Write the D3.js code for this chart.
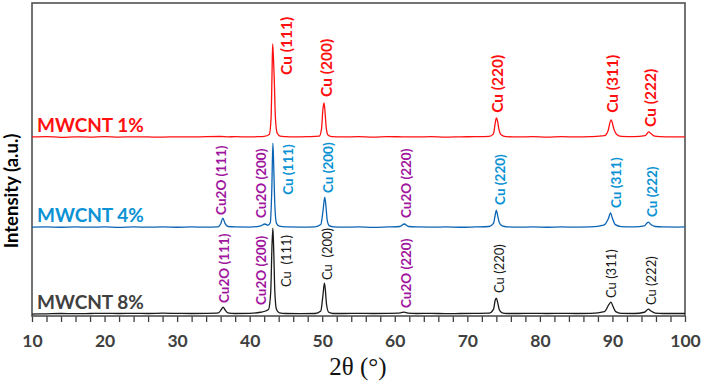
<!DOCTYPE html>
<html><head><meta charset="utf-8">
<script src="https://cdn.jsdelivr.net/npm/d3@7"></script>
<style>html,body{margin:0;padding:0;background:#fff;}svg{display:block;}</style>
</head><body><svg id="c" width="706" height="384"></svg>
<script>
// ---- data ----
const seriesNames = ["MWCNT 1%", "MWCNT 4%", "MWCNT 8%"];
const seriesOffsets = [5720, 2840, 60];
const xTicks = [10, 20, 30, 40, 50, 60, 70, 80, 90, 100];
const xTitle = "2\u03B8 (\u00B0)";
const yTitle = "Intensity (a.u.)";

const pattern1 = [[10,0],[12,10],[14,-10],[16,5],[18,-5],[20,10],[22,-5],[24,5],[26,0],[28,-5],[30,5],[32,0],[34,10],[36,15],[37,5],[38,10],[40,0],[41,10],[42,20],[42.7,80],[42.95,600],[43.08,2000],[43.17,2971],[43.28,2500],[43.38,1900],[43.55,600],[43.8,120],[44.2,30],[45,10],[46,0],[48,10],[49.6,30],[49.9,250],[50.1,900],[50.24,1090],[50.35,900],[50.55,300],[50.8,60],[51.3,10],[53,0],[55,10],[57,-5],[59,10],[61,5],[63,0],[65,10],[67,-5],[69,5],[71,10],[73,20],[73.6,100],[73.85,450],[74.0,607],[74.15,520],[74.35,250],[74.7,60],[75.3,10],[77,0],[79,10],[81,-5],[83,10],[85,0],[87,10],[88.9,40],[89.4,200],[89.8,543],[89.95,480],[90.2,250],[90.6,80],[91.2,20],[93,10],[94.5,40],[95.0,160],[95.3,110],[95.8,30],[96.6,10],[98,0],[100,5]];
const pattern4 = [[10,0],[12,5],[14,-5],[16,5],[18,0],[20,5],[22,-10],[24,5],[26,0],[28,5],[30,-5],[32,5],[34,0],[35.6,10],[36.0,100],[36.3,290],[36.6,120],[37.0,20],[38,5],[40,0],[41.5,40],[42.1,100],[42.5,60],[42.85,150],[43.05,1200],[43.2,2684],[43.32,1900],[43.47,700],[43.7,120],[44.1,30],[45,5],[47,0],[49,10],[49.8,80],[50.1,500],[50.35,960],[50.5,700],[50.7,200],[51.0,40],[51.6,10],[53,0],[55,5],[57,-10],[59,5],[60.7,20],[61.3,100],[61.9,20],[63,5],[65,0],[67,5],[69,-5],[71,5],[73,20],[73.6,120],[73.85,400],[74.0,540],[74.15,400],[74.4,150],[74.8,40],[75.5,10],[77,0],[79,5],[81,-5],[83,5],[85,0],[87,5],[88.8,60],[89.4,250],[89.75,450],[90.0,280],[90.4,80],[91.2,15],[93,5],[94.4,40],[94.95,160],[95.3,80],[95.9,20],[97,5],[99,0],[100,5]];
const pattern8 = [[10,0],[12,10],[14,20],[16,15],[18,20],[20,25],[22,20],[24,25],[26,20],[28,30],[30,25],[32,20],[34,25],[35.7,40],[36.1,150],[36.35,225],[36.6,140],[37.0,40],[38,20],[40,25],[41.5,60],[42.2,100],[42.6,150],[42.9,700],[43.08,2200],[43.2,2750],[43.32,2000],[43.47,700],[43.7,150],[44.1,40],[45,20],[47,15],[49,20],[49.8,100],[50.1,600],[50.3,990],[50.42,800],[50.6,300],[50.9,60],[51.5,20],[53,20],[55,25],[57,20],[59,25],[60.8,40],[61.3,65],[61.8,35],[63,20],[65,25],[67,15],[69,20],[71,25],[73,30],[73.6,150],[73.85,450],[74.0,510],[74.15,400],[74.4,150],[74.8,40],[75.5,20],[77,20],[79,25],[81,20],[83,25],[85,20],[87,25],[88.9,80],[89.5,300],[89.8,385],[90.05,260],[90.45,80],[91.2,25],[93,20],[94.4,60],[94.95,160],[95.3,100],[95.9,35],[97,20],[99,20],[100,20]];

// peak labels: [text, 2theta of label centre, intensity at label foot, kind]
const labels1 = [["Cu (111)",45.1,7700,"cu"],["Cu (200)",50.6,7000,"cu"],["Cu (220)",74.2,6490,"cu"],["Cu (311)",90.05,6490,"cu"],["Cu (222)",95.2,6040,"cu"]];
const labels4 = [["Cu2O (111)",36.05,3230,"ox"],["Cu2O (200)",41.56,3130,"ox"],["Cu (111)",45.28,3870,"cu"],["Cu (200)",50.8,3930,"cu"],["Cu2O (220)",61.54,3130,"ox"],["Cu (220)",74.5,3550,"cu"],["Cu (311)",90.5,3450,"cu"],["Cu (222)",95.45,3160,"cu"]];
const labels8 = [["Cu2O (111)",36.46,415,"ox"],["Cu2O (200)",41.56,350,"ox"],["Cu  (111)",45.0,925,"cu"],["Cu  (200)",50.66,1150,"cu"],["Cu2O (220)",61.54,255,"ox"],["Cu (220)",74.36,735,"cu"],["Cu (311)",89.93,575,"cu"],["Cu (222)",95.31,350,"cu"]];

// ---- styles ----
const lineColors = ["#ff1010", "#0a64b4", "#1a1a1a"];
const nameColors = ["#ff1010", "#0a92d4", "#404040"];
const cuStyles = [{c:"#ff1010",s:15.5,w:700},{c:"#0a92d4",s:13.5,w:700},{c:"#1a1a1a",s:13,w:400}];
const oxColor = "#a0169e";
const FONT = "Lato, 'Open Sans', sans-serif";

const W = 706, H = 384;
const m = {l:32, r:21, t:3, b:68};
const svg = d3.select("#c");
const x = d3.scaleLinear().domain([10,100]).range([m.l, W-m.r]);
const y = d3.scaleLinear().domain([0,10000]).range([H-m.b, m.t]);

// axis
const ax = svg.append("g").attr("transform", `translate(0,${H-m.b})`)
  .call(d3.axisBottom(x).tickValues(d3.range(10,101,2)).tickSize(6).tickPadding(13)
    .tickFormat(d => xTicks.includes(d) ? d : ""));
ax.select(".domain").remove();
ax.selectAll(".tick line").attr("stroke","#404040").attr("stroke-width",1.3);
ax.selectAll(".tick text").attr("fill","#404040").attr("font-family",FONT)
  .attr("font-weight",700).attr("font-size",17.5);

// frame
svg.append("rect").attr("x",x(10)).attr("y",m.t).attr("width",x(100)-x(10))
  .attr("height",H-m.b-m.t).attr("fill","none").attr("stroke","#505050").attr("stroke-width",1.6);

const patterns = [pattern1, pattern4, pattern8];
const labelSets = [labels1, labels4, labels8];
patterns.forEach((p,i) => {
  const off = seriesOffsets[i];
  const line = d3.line().x(d => x(d[0])).y(d => y(d[1] + off)).curve(d3.curveMonotoneX);
  svg.append("path").datum(p).attr("d", line).attr("fill","none")
    .attr("stroke", lineColors[i]).attr("stroke-width", 1.3).attr("stroke-linejoin","round");
  svg.append("text").attr("x", x(10) + 5).attr("y", y(off) - 5)
    .attr("fill", nameColors[i]).attr("font-family", FONT).attr("font-weight",700)
    .attr("font-size", 19).text(seriesNames[i]);
  labelSets[i].forEach(l => {
    const st = l[3] === "ox" ? {c:oxColor, s:13.5, w:700} : cuStyles[i];
    svg.append("text")
      .attr("transform", `translate(${x(l[1])},${y(l[2])}) rotate(-90)`)
      .attr("dy","0.35em").attr("text-anchor","start")
      .attr("fill", st.c).attr("font-family", FONT).attr("font-weight", st.w)
      .attr("font-size", st.s).style("white-space","pre").text(l[0]);
  });
});

// titles
svg.append("text").attr("x", 358).attr("y", 375).attr("text-anchor","middle")
  .attr("font-family","'Liberation Serif', 'Times New Roman', serif").attr("font-size",25)
  .attr("fill","#111").text(xTitle);
svg.append("text").attr("transform","translate(18,191) rotate(-90)").attr("text-anchor","middle")
  .attr("font-family",FONT).attr("font-weight",700).attr("font-size",18.5).attr("fill","#000").text(yTitle);
</script></body></html>
